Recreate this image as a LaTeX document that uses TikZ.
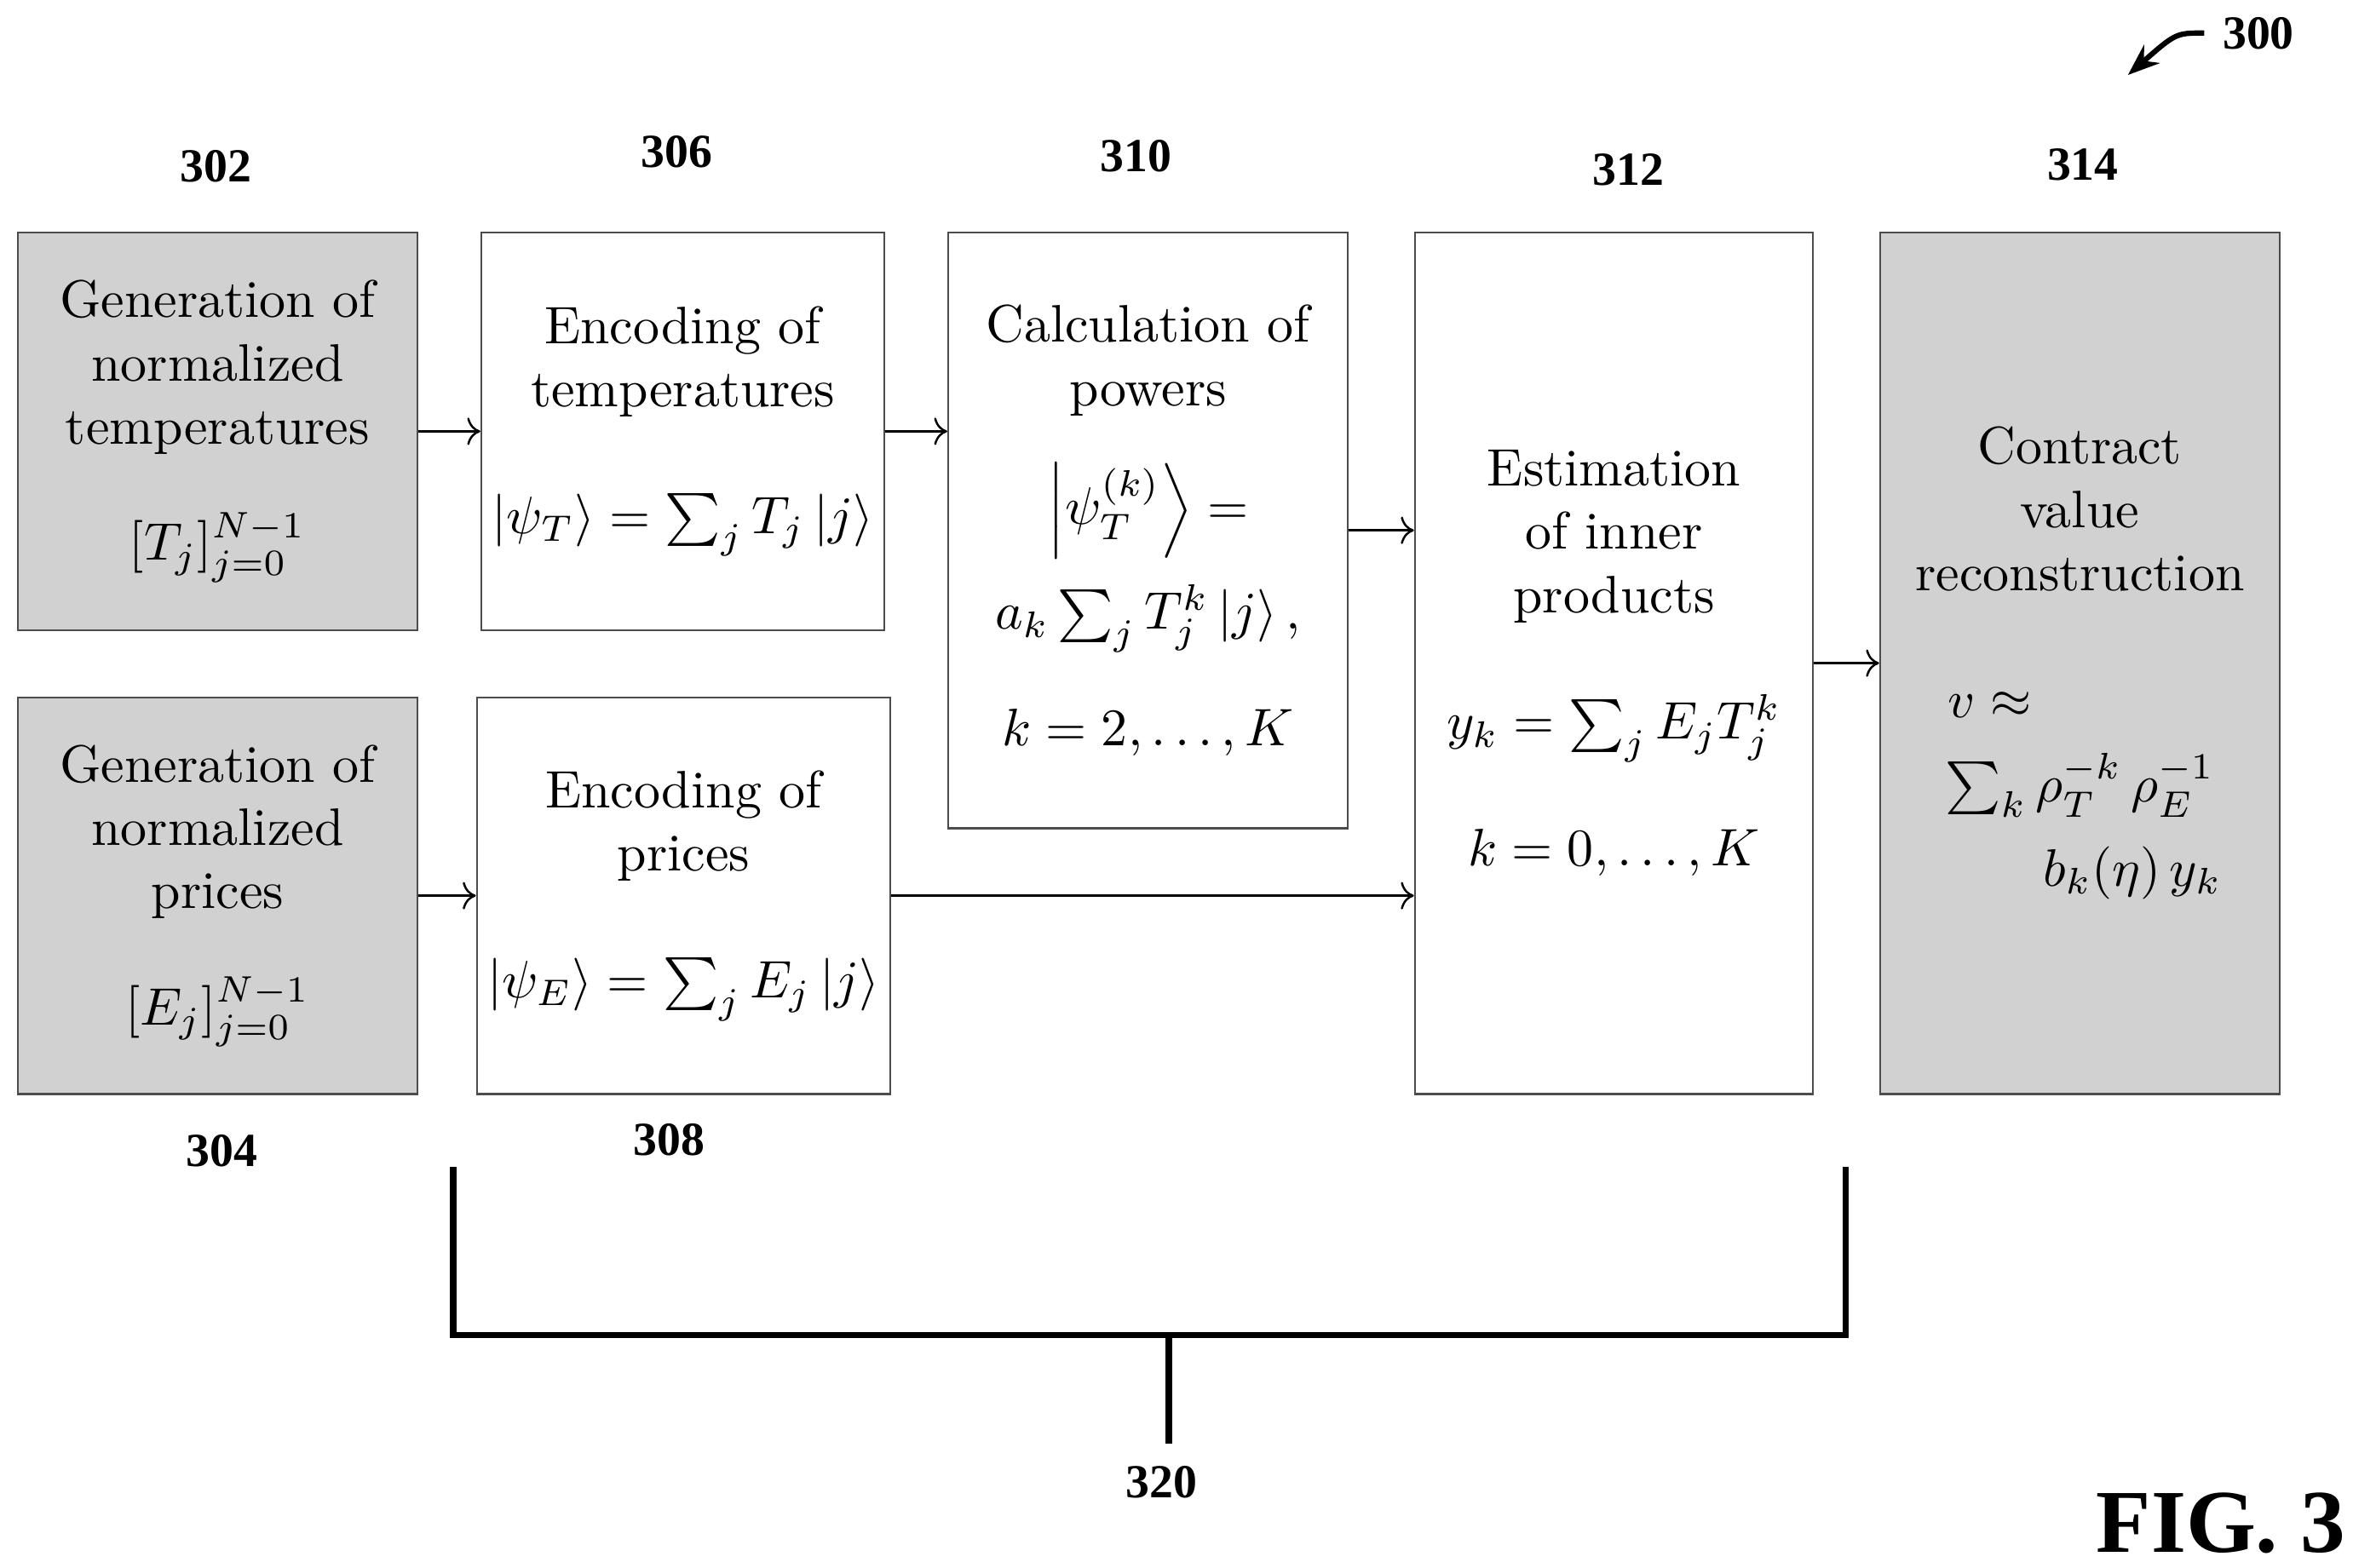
\documentclass[tikz,border=0pt]{standalone}
\usepackage{amsmath,amssymb}
\usepackage{fontspec}
\newfontfamily\labelfont{Liberation Serif}
\usetikzlibrary{calc,arrows,arrows.meta}
\tikzset{
  blk/.style={draw=black!70, minimum width=2.66cm, align=center, inner sep=2pt},
  gblk/.style={blk, fill=black!18},
  lbl/.style={font=\labelfont\bfseries\small},
}
\begin{document}
\begin{tikzpicture}[x=0.01cm,y=-0.01cm]
    \useasboundingbox (0,0) rectangle (1568,1045);
    % boxes
    \node[gblk, minimum height=2.65cm] (b302) at (145,287.5)
      {Generation of\\normalized\\temperatures\\[10pt] $[T_j]_{j=0}^{N-1}$};
    \node[gblk, minimum height=2.64cm] (b304) at (145,597)
      {Generation of\\normalized\\prices\\[10pt] $[E_j]_{j=0}^{N-1}$};
    \node[blk, minimum height=2.65cm] (b306) at (455,287.5)
      {Encoding of\\temperatures\\[12pt] $\lvert\psi_T\rangle=\sum_j T_j\,\lvert j\rangle$};
    \node[blk, minimum width=2.71cm, minimum height=2.64cm] (b308) at (455.5,597)
      {Encoding of\\prices\\[12pt] $\lvert\psi_E\rangle=\sum_j E_j\,\lvert j\rangle$};
    \node[blk, minimum height=3.97cm] (b310) at (765,353.5)
      {Calculation of\\powers\\[8pt] $\left\lvert\psi_T^{(k)}\right\rangle=$\\[4pt] $a_k\sum_j T_j^k\,\lvert j\rangle\,,$\\[10pt] $k=2,\ldots,K$};
    \node[blk, minimum width=2.65cm, minimum height=5.74cm] (b312) at (1075.5,442)
      {Estimation\\of inner\\products\\[12pt] $y_k=\sum_j E_jT_j^k$\\[12pt] $k=0,\ldots,K$};
    \node[gblk, minimum height=5.74cm] (b314) at (1386,442)
      {Contract\\value\\reconstruction\\[12pt] \hspace*{-1.2cm}$v\approx$\\[4pt] $\sum_k \rho_T^{-k}\,\rho_E^{-1}$\\[4pt] \hspace*{0.7cm}$b_k(\eta)\,y_k$};
    % connectors
    \draw[->] (b302) -- (b306);
    \draw[->] (b306.east) -- (b306.east -| b310.west);
    \draw[->] (b310.east) -- (b310.east -| b312.west);
    \draw[->] (b304) -- (b308);
    \draw[->] (b308.east) -- (b308.east -| b312.west);
    \draw[->] (b312) -- (b314);
    % bracket
    \coordinate (bl) at (302,778);
    \coordinate (br) at (1230,778);
    \coordinate (bc) at (779,890);
    \draw[line width=1.2pt] (bl) -- (bl |- bc) -- (br |- bc) -- (br);
    \draw[line width=1.2pt] (bc) -- ++(0,72);
    % reference labels
    \node[lbl] at (144,111) {302};
    \node[lbl] at (451,101) {306};
    \node[lbl] at (757,104) {310};
    \node[lbl] at (1085,113) {312};
    \node[lbl] at (1388,110) {314};
    \node[lbl] at (148,767) {304};
    \node[lbl] at (446,760) {308};
    \node[lbl] at (774,988) {320};
    \node[lbl] (n300) at (1505,22) {300};
    \draw[-{Stealth[length=6pt]}, line width=1pt] (n300.west) .. controls (1450,22) .. (1418,50);
    \node[font=\labelfont\bfseries\fontsize{17}{17}\selectfont] at (1480,1015) {FIG. 3};
\end{tikzpicture}
\end{document}
